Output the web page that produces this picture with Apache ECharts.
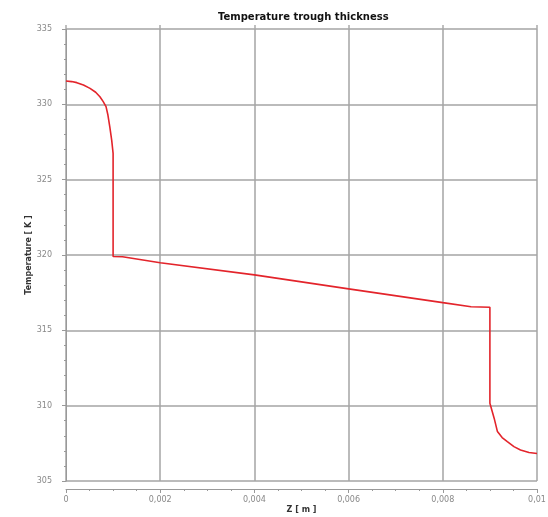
<!DOCTYPE html>
<html>
<head>
<meta charset="utf-8">
<script src="https://cdn.jsdelivr.net/npm/echarts@6/dist/echarts.min.js"></script>
<style>
  html, body { margin: 0; padding: 0; background: #fff; }
  #chart { width: 548px; height: 517px; }
</style>
</head>
<body>
<div id="chart"></div>
<script>
// depth through the wall [m] and temperature [K]
const zValues = [0, 0.00012, 0.00023, 0.00037, 0.00051, 0.00063, 0.00072, 0.00079, 0.00085, 0.00089,
  0.00093, 0.00097, 0.001, 0.001, 0.0012, 0.002, 0.004, 0.006, 0.008, 0.0086, 0.009, 0.009,
  0.00909, 0.00916, 0.00926, 0.00937, 0.00951, 0.00965, 0.00983, 0.01];
const tempValues = [331.55, 331.51, 331.44, 331.28, 331.06, 330.8, 330.5, 330.18, 329.85, 329.29,
  328.5, 327.63, 326.75, 319.9, 319.88, 319.49, 318.68, 317.75, 316.84, 316.57, 316.53, 310.16,
  309.17, 308.28, 307.88, 307.61, 307.28, 307.06, 306.89, 306.82];

const chart = echarts.init(document.getElementById('chart'));

const fmtZ = (v) => (v === 0 ? '0' : String(+v.toFixed(3)).replace('.', ','));

const option = {
  backgroundColor: '#fff',
  animation: false,
  title: {
    text: 'Temperature trough thickness',
    left: 213,
    top: 7,
    textStyle: { fontFamily: 'DejaVu Sans', fontSize: 10, fontWeight: 'bold', color: '#111' },
  },
  grid: { left: 66, right: 11, top: 29, bottom: 36, outerBoundsMode: 'none' },
  xAxis: [
    {
      type: 'value',
      min: 0,
      max: 0.01,
      interval: 0.002,
      offset: 8,
      name: 'Z [ m ]',
      nameLocation: 'middle',
      nameGap: 17,
      nameMoveOverlap: false,
      nameTextStyle: { fontFamily: 'DejaVu Sans', fontSize: 8, fontWeight: 'bold', color: '#333' },
      axisLine: { show: true, lineStyle: { color: '#999', width: 1 } },
      axisTick: { show: true, length: 4, lineStyle: { color: '#999' } },
      minorTick: { show: true, splitNumber: 4, length: 2, lineStyle: { color: '#999' } },
      axisLabel: { formatter: fmtZ, fontFamily: 'DejaVu Sans', fontSize: 8, color: '#888', margin: 7 },
      splitLine: { show: true, lineStyle: { color: '#a5a5a5', width: 1.5 } },
    },
    {
      type: 'value',
      position: 'top',
      min: 0,
      max: 0.01,
      interval: 0.002,
      axisLine: { show: false },
      axisTick: { show: true, length: 4, lineStyle: { color: '#aaa', width: 1.5 } },
      axisLabel: { show: false },
      splitLine: { show: false },
    },
  ],
  yAxis: {
    type: 'value',
    min: 305,
    max: 335,
    interval: 5,
    offset: 6,
    name: 'Temperature [ K ]',
    nameLocation: 'middle',
    nameGap: 27,
    nameMoveOverlap: false,
    nameTextStyle: { fontFamily: 'DejaVu Sans', fontSize: 8, fontWeight: 'bold', color: '#333' },
    axisLine: { show: true, lineStyle: { color: '#999', width: 1 } },
    axisTick: { show: true, length: 4, lineStyle: { color: '#999' } },
    minorTick: { show: true, splitNumber: 5, length: 2, lineStyle: { color: '#999' } },
    axisLabel: { fontFamily: 'DejaVu Sans', fontSize: 8, color: '#888', margin: 8 },
    splitLine: { show: true, lineStyle: { color: '#a5a5a5', width: 1.5 } },
  },
  series: [
    {
      type: 'line',
      xAxisIndex: 0,
      data: zValues.map((z, i) => [z, tempValues[i]]),
      symbol: 'none',
      lineStyle: { color: '#e3242b', width: 1.6 },
    },
  ],
};

chart.setOption(option);
</script>
</body>
</html>
